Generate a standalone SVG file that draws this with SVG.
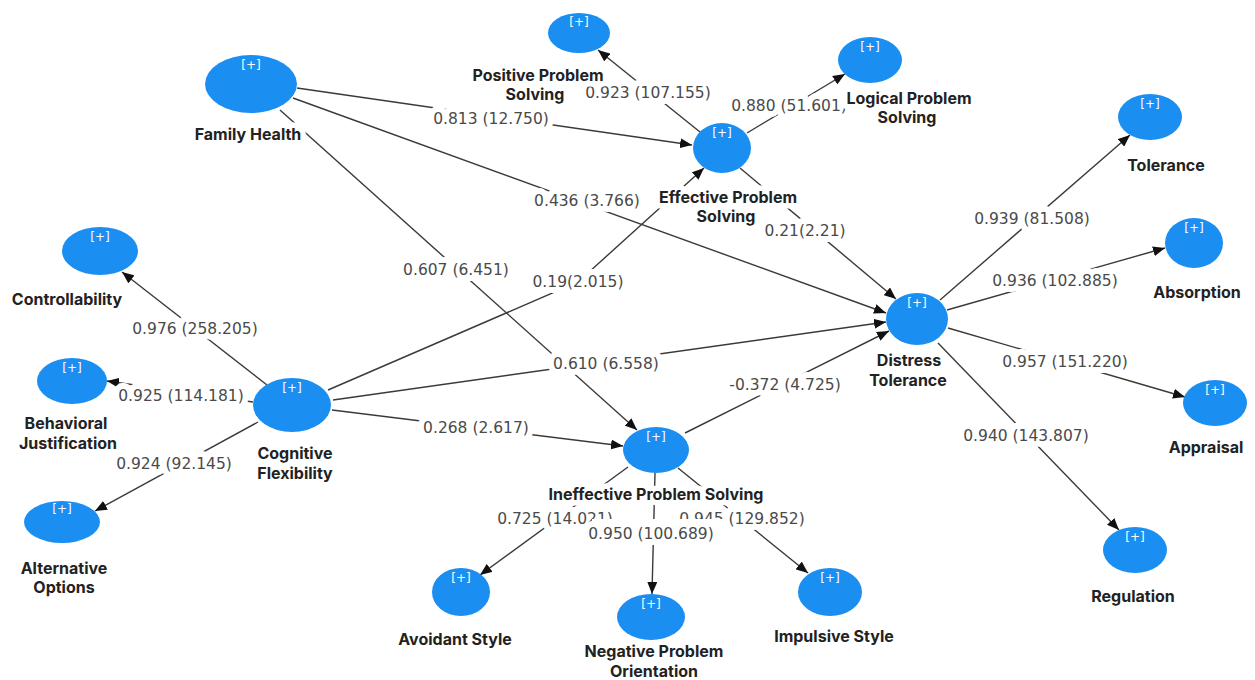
<svg xmlns="http://www.w3.org/2000/svg" width="1255" height="680" viewBox="0 0 1255 680">
<defs>
<marker id="arr" viewBox="0 0 12 10" refX="12" refY="5" markerWidth="12" markerHeight="10" markerUnits="userSpaceOnUse" orient="auto">
<path d="M0,0 L12,5 L0,10 z" fill="#111"/>
</marker>
<style>
.ln{stroke:#3a3a3a;stroke-width:1.4;fill:none;marker-end:url(#arr)}
.el{font-family:"DejaVu Sans",sans-serif;font-size:15.5px;fill:#4a4a4a;text-anchor:middle;paint-order:stroke;stroke:#fff;stroke-width:12px;stroke-linejoin:round}
.nd{fill:#1b8ef2}
.pl{font-family:"DejaVu Sans",sans-serif;font-size:12px;fill:#fff;text-anchor:middle}
.nl{font-family:Inter,"Liberation Sans",sans-serif;font-size:16px;font-weight:700;fill:#222;text-anchor:middle;paint-order:stroke;stroke:#fff;stroke-width:11px;stroke-linejoin:round}
</style>
</defs>
<rect width="1255" height="680" fill="#fff"/>
<g id="connectors">
<g id="connector-lines">
<line class="ln" x1="297" y1="88" x2="692" y2="145"/>
<line class="ln" x1="293" y1="98" x2="886" y2="313"/>
<line class="ln" x1="280" y1="110" x2="637" y2="430"/>
<line class="ln" x1="700" y1="132" x2="598" y2="50"/>
<line class="ln" x1="747" y1="133" x2="845" y2="74"/>
<line class="ln" x1="740" y1="168" x2="896" y2="299"/>
<polyline class="ln" points="328,390 578,282 704,168"/>
<line class="ln" x1="333" y1="400" x2="886" y2="322"/>
<line class="ln" x1="332" y1="410" x2="623" y2="446"/>
<line class="ln" x1="267" y1="385" x2="122" y2="272"/>
<line class="ln" x1="253" y1="402" x2="107" y2="381"/>
<line class="ln" x1="258" y1="422" x2="95" y2="511"/>
<line class="ln" x1="685" y1="433" x2="889" y2="331"/>
<line class="ln" x1="628" y1="467" x2="480" y2="575"/>
<line class="ln" x1="655" y1="473" x2="652" y2="594"/>
<line class="ln" x1="678" y1="468" x2="808" y2="573"/>
<line class="ln" x1="940" y1="300" x2="1130" y2="135"/>
<line class="ln" x1="947" y1="310" x2="1165" y2="248"/>
<line class="ln" x1="948" y1="328" x2="1185" y2="397"/>
<line class="ln" x1="938" y1="343" x2="1119" y2="530"/>
</g>
<g id="connector-labels">
<text class="el" x="491" y="124">0.813 (12.750)</text>
<text class="el" x="587" y="206">0.436 (3.766)</text>
<text class="el" x="456" y="275">0.607 (6.451)</text>
<text class="el" x="648" y="98">0.923 (107.155)</text>
<text class="el" x="789" y="111">0.880 (51.601)</text>
<text class="el" x="805" y="236">0.21(2.21)</text>
<text class="el" x="578" y="287">0.19(2.015)</text>
<text class="el" x="606" y="369">0.610 (6.558)</text>
<text class="el" x="476" y="433">0.268 (2.617)</text>
<text class="el" x="195" y="334">0.976 (258.205)</text>
<text class="el" x="181" y="401">0.925 (114.181)</text>
<text class="el" x="174" y="469">0.924 (92.145)</text>
<text class="el" x="785" y="390">-0.372 (4.725)</text>
<text class="el" x="555" y="524">0.725 (14.021)</text>
<text class="el" x="742" y="524">0.945 (129.852)</text>
<rect x="592" y="519" width="133" height="26" fill="#fff"/>
<text class="el" x="651" y="539">0.950 (100.689)</text>
<text class="el" x="1032" y="224">0.939 (81.508)</text>
<text class="el" x="1055" y="286">0.936 (102.885)</text>
<text class="el" x="1065" y="367">0.957 (151.220)</text>
<text class="el" x="1026" y="441">0.940 (143.807)</text>
</g>
</g>
<g id="n-family-health">
<ellipse class="nd" cx="251" cy="84" rx="46" ry="29"/>
<text class="pl" x="251" y="69">[+]</text>
<text class="nl" x="248" y="140">Family Health</text>
</g>
<g id="n-positive-problem-solving">
<ellipse class="nd" cx="579" cy="33" rx="31" ry="20"/>
<text class="pl" x="579" y="26">[+]</text>
<text class="nl" x="538" y="81">Positive Problem</text>
<text class="nl" x="535" y="100">Solving</text>
</g>
<g id="n-logical-problem-solving">
<ellipse class="nd" cx="870" cy="60" rx="32" ry="23"/>
<text class="pl" x="870" y="51">[+]</text>
<text class="nl" x="909" y="104">Logical Problem</text>
<text class="nl" x="907" y="123">Solving</text>
</g>
<g id="n-effective-problem-solving">
<ellipse class="nd" cx="722" cy="148" rx="29" ry="25"/>
<text class="pl" x="722" y="137">[+]</text>
<text class="nl" x="728" y="203">Effective Problem</text>
<text class="nl" x="726" y="222">Solving</text>
</g>
<g id="n-tolerance">
<ellipse class="nd" cx="1150" cy="117" rx="32" ry="23"/>
<text class="pl" x="1150" y="108">[+]</text>
<text class="nl" x="1166" y="171">Tolerance</text>
</g>
<g id="n-absorption">
<ellipse class="nd" cx="1194" cy="243" rx="29" ry="25"/>
<text class="pl" x="1194" y="232">[+]</text>
<text class="nl" x="1197" y="298">Absorption</text>
</g>
<g id="n-distress-tolerance">
<ellipse class="nd" cx="917" cy="319" rx="31" ry="26"/>
<text class="pl" x="917" y="307">[+]</text>
<text class="nl" x="909" y="366">Distress</text>
<text class="nl" x="908" y="386">Tolerance</text>
</g>
<g id="n-appraisal">
<ellipse class="nd" cx="1215" cy="403" rx="32" ry="23"/>
<text class="pl" x="1215" y="394">[+]</text>
<text class="nl" x="1206" y="453">Appraisal</text>
</g>
<g id="n-regulation">
<ellipse class="nd" cx="1135" cy="550" rx="32" ry="23"/>
<text class="pl" x="1135" y="541">[+]</text>
<text class="nl" x="1133" y="602">Regulation</text>
</g>
<g id="n-controllability">
<ellipse class="nd" cx="100" cy="251" rx="38" ry="24"/>
<text class="pl" x="100" y="241">[+]</text>
<text class="nl" x="67" y="305">Controllability</text>
</g>
<g id="n-behavioral-justification">
<ellipse class="nd" cx="72" cy="381" rx="35" ry="23"/>
<text class="pl" x="72" y="372">[+]</text>
<text class="nl" x="66" y="429">Behavioral</text>
<text class="nl" x="68" y="449">Justification</text>
</g>
<g id="n-cognitive-flexibility">
<ellipse class="nd" cx="292" cy="405" rx="39" ry="27"/>
<text class="pl" x="292" y="392">[+]</text>
<text class="nl" x="295" y="459">Cognitive</text>
<text class="nl" x="295" y="479">Flexibility</text>
</g>
<g id="n-alternative-options">
<ellipse class="nd" cx="62" cy="522" rx="38" ry="21"/>
<text class="pl" x="62" y="513">[+]</text>
<text class="nl" x="64" y="574">Alternative</text>
<text class="nl" x="64" y="593">Options</text>
</g>
<g id="n-ineffective-problem-solving">
<ellipse class="nd" cx="656" cy="450" rx="33" ry="23"/>
<text class="pl" x="656" y="441">[+]</text>
<text class="nl" x="656" y="500">Ineffective Problem Solving</text>
</g>
<g id="n-avoidant-style">
<ellipse class="nd" cx="461" cy="592" rx="29" ry="24"/>
<text class="pl" x="461" y="582">[+]</text>
<text class="nl" x="455" y="645">Avoidant Style</text>
</g>
<g id="n-negative-problem-orientation">
<ellipse class="nd" cx="651" cy="617" rx="34" ry="23"/>
<text class="pl" x="651" y="608">[+]</text>
<text class="nl" x="654" y="657">Negative Problem</text>
<text class="nl" x="654" y="677">Orientation</text>
</g>
<g id="n-impulsive-style">
<ellipse class="nd" cx="830" cy="592" rx="32" ry="24"/>
<text class="pl" x="830" y="582">[+]</text>
<text class="nl" x="834" y="642">Impulsive Style</text>
</g>
</svg>
